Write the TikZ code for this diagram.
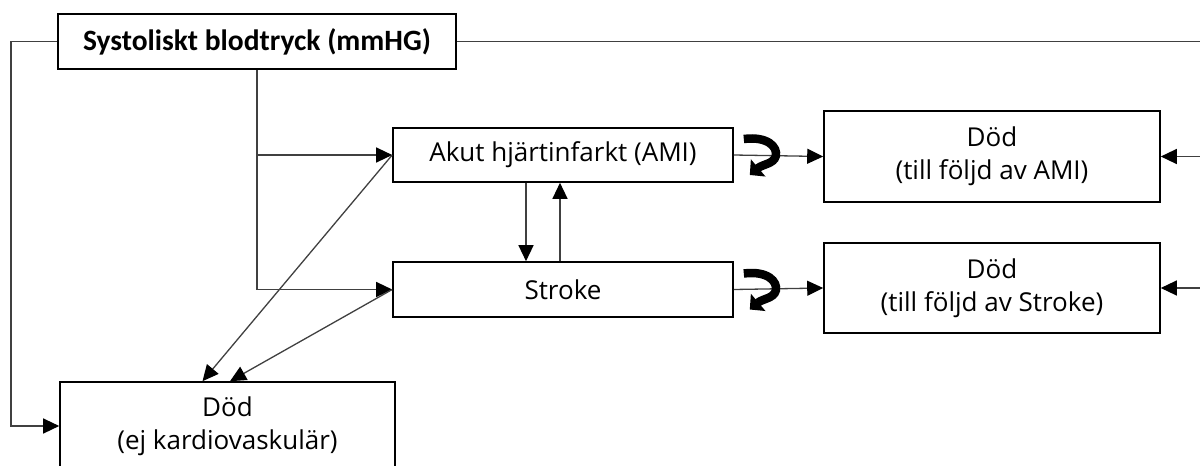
\documentclass[tikz,border=0pt]{standalone}
\usepackage{fontspec}
\setmainfont{Open Sans}
\newfontfamily\titlefont{Carlito}
\usetikzlibrary{arrows.meta,calc}
\tikzset{
  box/.style={draw=black, line width=1.6pt, fill=white, align=center, inner sep=0pt,
    font=\fontsize{26}{33}\selectfont},
  conn/.style={draw=black!75, line width=1.3pt},
  arr/.style={conn, -{Triangle[length=16pt,width=15pt,color=black]}},
  uturn/.pic={
    \draw[line width=8.5pt, line cap=butt, -{Triangle[length=11pt,width=22pt]}]
      (10,-16) .. controls (34,-19) and (44,-8) .. (42,1)
      .. controls (40,9) and (29,9) .. (16,20);
  }
}
\begin{document}
\begin{tikzpicture}[x=1pt,y=-1pt]
\useasboundingbox (0,0) rectangle (1200,466);
\clip (0,0) rectangle (1200,466);
% nodes
\node[box, minimum width=398pt, minimum height=55pt, font=\titlefont\bfseries\fontsize{29.5}{34}\selectfont] (sbp) at (257,41.5) {Systoliskt blodtryck (mmHG)};
\node[box, minimum width=340pt, minimum height=54pt] (ami) at (563,155) {Akut hjärtinfarkt (AMI)};
\node[box, minimum width=340pt, minimum height=55pt] (stroke) at (563,289.5) {Stroke};
\node[box, minimum width=336pt, minimum height=91pt] (dami) at (992,156.5) {Död\\(till följd av AMI)};
\node[box, minimum width=336pt, minimum height=90pt] (dstroke) at (992,288) {Död\\(till följd av Stroke)};
\node[box, minimum width=335pt, minimum height=88pt] (dej) at (227.5,426) {Död\\(ej kardiovaskulär)};
% free ends at the right border
\coordinate (rtop) at (1205,41.5);
\coordinate (rami) at (1205,156.5);
\coordinate (rstroke) at (1205,288);
\coordinate (lcorner) at (11,41.5);
% connectors
\draw[conn] (sbp.east) -- (rtop);
\draw[arr] (rami) -- (dami.east);
\draw[arr] (rstroke) -- (dstroke.east);
\draw[arr] (sbp.south) |- (stroke.west);
\draw[arr] (sbp.south |- ami.west) -- (ami.west);
\draw[arr] (sbp.west) -- (lcorner) |- (dej.west);
\draw[arr] (ami.west) -- ($(dej.north)+(-25,0)$);
\draw[arr] (stroke.west) -- ($(dej.north)+(2.5,0)$);
\draw[arr] ($(ami.south)+(-37,0)$) -- ($(stroke.north)+(-37,0)$);
\draw[arr] ($(stroke.north)+(-3,0)$) -- ($(ami.south)+(-3,0)$);
\draw[arr] (ami.east) -- (dami.west);
\draw[arr] (stroke.east) -- (dstroke.west);
\pic at (ami.east) {uturn};
\pic at (stroke.east) {uturn};
\end{tikzpicture}
\end{document}
